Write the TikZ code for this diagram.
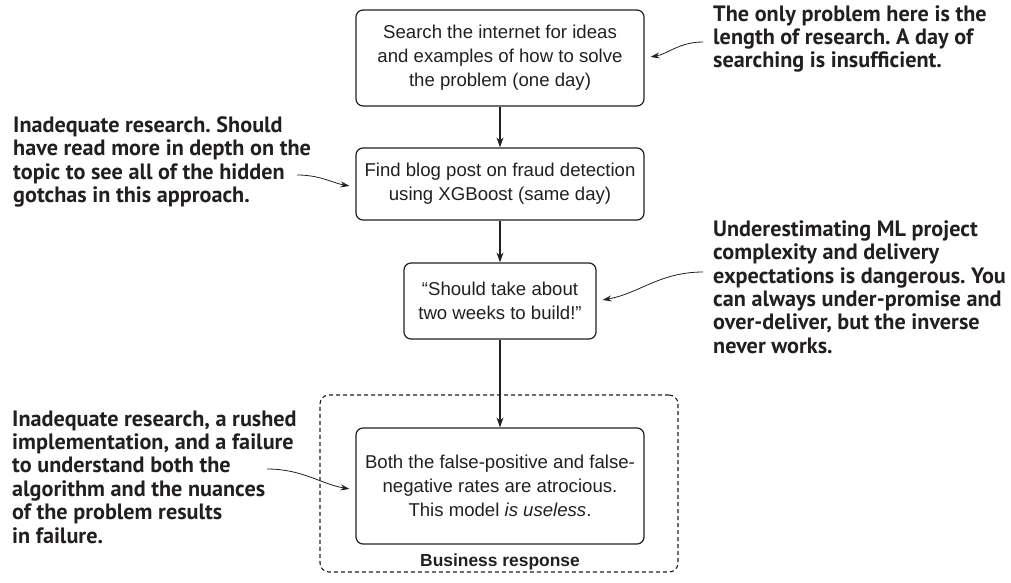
\documentclass[tikz,border=0pt]{standalone}
\usepackage{fontspec}
\setmainfont{Liberation Sans}
\newfontfamily\notefont{PT Sans}
\usetikzlibrary{arrows.meta}
\definecolor{ink}{HTML}{231F20}
\frenchspacing

\begin{document}
\begin{tikzpicture}[x=1pt,y=-1pt,
    box/.style={draw=ink,line width=1.2pt,rounded corners=7pt,align=center,
      inner sep=0pt,text=ink,font=\fontsize{18.6}{24}\selectfont},
    frame/.style={draw=ink,line width=1.1pt,dash pattern=on 4pt off 3pt,
      rounded corners=9pt,minimum width=358pt,minimum height=177pt},
    note/.style={align=left,anchor=west,inner sep=0pt,text=ink,
      font=\notefont\bfseries\fontsize{22.2}{23.4}\selectfont},
    flow/.style={draw=ink,line width=1.1pt,-{Stealth[length=10pt,width=7pt]}},
    hint/.style={draw=ink,line width=0.8pt,-{Stealth[length=9pt,width=6pt]},shorten >=6pt}]
  \useasboundingbox (0,0) rectangle (1011,582);

  \node[frame] (business) at (499,483.5) {};
  \node[box,minimum width=288pt,minimum height=96pt] (search) at (500,58)
    {Search the internet for ideas\\and examples of how to solve\\the problem (one day)};
  \node[box,minimum width=288pt,minimum height=72pt] (blog) at (500,184)
    {Find blog post on fraud detection\\using XGBoost (same day)};
  \node[box,minimum width=192pt,minimum height=76pt] (quote) at (500,301)
    {“Should take about\\two weeks to build!”};
  \node[box,minimum width=288pt,minimum height=116pt] (verdict) at (500,486)
    {Both the false-positive and false-\\negative rates are atrocious.\\This model \textit{is useless}.};
  \node[text=ink,font=\bfseries\fontsize{17.4}{20}\selectfont] (businesslabel) at (500,562)
    {Business response};

  \node[note] (lengthnote) at (713,39)
    {The only problem here is the\\length of research. A day of\\searching is insufficient.};
  \node[note] (depthnote) at (13,162)
    {Inadequate research. Should\\have read more in depth on the\\topic to see all of the hidden\\gotchas in this approach.};
  \node[note] (estimatenote) at (713,287)
    {Underestimating ML project\\complexity and delivery\\expectations is dangerous. You\\can always under-promise and\\over-deliver, but the inverse\\never works.};
  \node[note] (failnote) at (12,477)
    {Inadequate research, a rushed\\implementation, and a failure\\to understand both the\\algorithm and the nuances\\of the problem results\\in failure.};

  \coordinate (lengthtail) at (703,42);
  \coordinate (depthtail) at (297,175);
  \coordinate (estimatetail) at (703,272);
  \coordinate (failtail) at (267,469);

  \draw[flow] (search) -- (blog);
  \draw[flow] (blog) -- (quote);
  \draw[flow] (quote) -- (verdict);

  \draw[hint] (lengthtail) to[out=180,in=10] (search.east);
  \draw[hint] (depthtail) to[out=0,in=170] ([yshift=-3pt]blog.west);
  \draw[hint] (estimatetail) to[out=180,in=10] (quote.east);
  \draw[hint] (failtail) to[out=0,in=170] ([yshift=-4pt]verdict.west);
\end{tikzpicture}
\end{document}
